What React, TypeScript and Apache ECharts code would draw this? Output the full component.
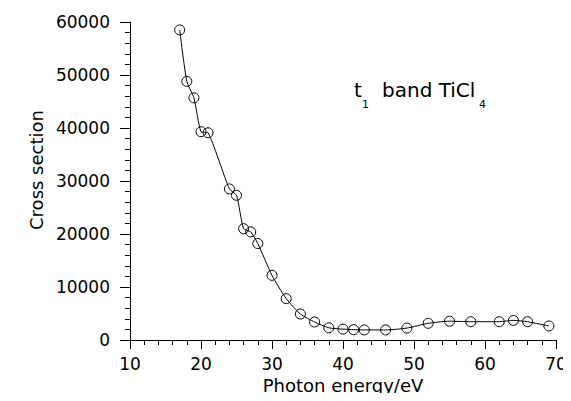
import React, { useEffect, useRef } from "react";
import * as echarts from "echarts";

const photonEnergy = [17, 18, 19, 20, 21, 24, 25, 26, 27, 28, 30, 32, 34, 36, 38, 40, 41.5, 43, 46, 49, 52, 55, 58, 62, 64, 66, 69];
const crossSection = [58500, 48800, 45700, 39300, 39100, 28500, 27300, 21000, 20400, 18200, 12200, 7800, 4900, 3400, 2300, 2050, 1950, 1900, 1900, 2250, 3150, 3550, 3450, 3450, 3700, 3450, 2650];
const xTitle = "Photon energy/eV";
const yTitle = "Cross section";

const FONT = "DejaVu Sans";

export default function App() {
  const ref = useRef<HTMLDivElement>(null);
  useEffect(() => {
    if (!ref.current) return;
    const chart = echarts.init(ref.current, undefined, { renderer: "svg" });
    const data = photonEnergy.map((x, i) => [x, crossSection[i]]);
    chart.setOption({
      animation: false,
      backgroundColor: "#fff",
      grid: { left: 130, right: 15, top: 22, bottom: 61, outerBoundsMode: "none", containLabel: false },
      xAxis: {
        type: "value",
        min: 10,
        max: 70,
        interval: 10,
        name: xTitle,
        nameLocation: "middle",
        nameGap: 33,
        nameTextStyle: { fontFamily: FONT, fontSize: 18, color: "#000" },
        axisLine: { show: true, lineStyle: { color: "#000", width: 1 } },
        axisTick: { show: true, length: 9, lineStyle: { color: "#000" } },
        minorTick: { show: true, splitNumber: 5, length: 5, lineStyle: { color: "#000" } },
        splitLine: { show: false },
        axisLabel: { margin: 15, fontFamily: FONT, fontSize: 17, color: "#000", formatter: (v: number) => String(v) },
      },
      yAxis: {
        type: "value",
        min: 0,
        max: 60000,
        interval: 10000,
        axisLine: { show: true, lineStyle: { color: "#000", width: 1 } },
        axisTick: { show: true, length: 10, lineStyle: { color: "#000" } },
        minorTick: { show: true, splitNumber: 5, length: 5, lineStyle: { color: "#000" } },
        splitLine: { show: false },
        axisLabel: { margin: 20, fontFamily: FONT, fontSize: 17, color: "#000", formatter: (v: number) => String(v) },
      },
      graphic: [
        {
          type: "text",
          x: 36,
          y: 170,
          rotation: Math.PI / 2,
          style: { text: yTitle, fontFamily: FONT, fontSize: 18, fill: "#000", align: "center", verticalAlign: "middle" },
        },
        { type: "text", x: 354, y: 90, style: { text: "t", fontFamily: FONT, fontSize: 20, fill: "#000", verticalAlign: "middle" } },
        { type: "text", x: 362, y: 104, style: { text: "1", fontFamily: FONT, fontSize: 11, fill: "#000", verticalAlign: "middle" } },
        { type: "text", x: 382, y: 90, style: { text: "band TiCl", fontFamily: FONT, fontSize: 20, fill: "#000", verticalAlign: "middle" } },
        { type: "text", x: 479, y: 104, style: { text: "4", fontFamily: FONT, fontSize: 11, fill: "#000", verticalAlign: "middle" } },
      ],
      series: [
        {
          type: "line",
          data,
          smooth: 0.2,
          symbol: "circle",
          symbolSize: 10,
          lineStyle: { color: "#000", width: 1 },
          itemStyle: { color: "rgba(0,0,0,0)", borderColor: "#000", borderWidth: 1 },
        },
      ],
    });
    return () => chart.dispose();
  }, []);
  return <div ref={ref} style={{ width: 571, height: 401, margin: -8 }} />;
}
